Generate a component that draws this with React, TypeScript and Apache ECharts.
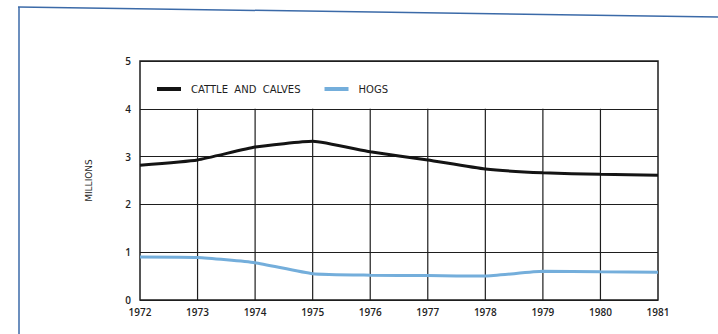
import React, { useEffect, useRef } from "react";
import * as echarts from "echarts";

const years = ["1972", "1973", "1974", "1975", "1976", "1977", "1978", "1979", "1980", "1981"];
const cattle = [2.82, 2.93, 3.2, 3.32, 3.1, 2.93, 2.74, 2.66, 2.63, 2.61];
const hogs = [0.9, 0.89, 0.78, 0.55, 0.52, 0.51, 0.5, 0.6, 0.59, 0.58];
const innerYears = years.slice(1, -1);
const seriesNames = ["CATTLE  AND  CALVES", "HOGS"];

export default function App() {
  const ref = useRef<HTMLDivElement>(null);
  useEffect(() => {
    if (!ref.current) return;
    const chart = echarts.init(ref.current, null, { renderer: "svg" });
    const ink = "#1e1e1e";
    chart.setOption({
      animation: false,
      backgroundColor: "#ffffff",
      textStyle: { fontFamily: "DejaVu Sans" },
      grid: {
        left: 140,
        right: 60,
        top: 61,
        bottom: 34,
        show: true,
        borderColor: ink,
        borderWidth: 1.5,
        backgroundColor: "transparent",
      },
      legend: {
        left: 152,
        top: 79,
        itemWidth: 24,
        itemHeight: 4,
        itemGap: 24,
        icon: "rect",
        data: seriesNames,
        textStyle: { fontSize: 10, color: ink, padding: [0, 0, 0, 5], fontFamily: "DejaVu Sans" },
      },
      xAxis: {
        type: "category",
        data: years,
        boundaryGap: false,
        axisLine: { show: false },
        axisTick: { show: false },
        splitLine: { show: false },
        axisLabel: { color: ink, fontSize: 10, fontWeight: 600, fontFamily: "Open Sans", margin: 7 },
      },
      yAxis: {
        type: "value",
        min: 0,
        max: 5,
        interval: 1,
        name: "MILLIONS",
        nameLocation: "middle",
        nameRotate: 90,
        nameGap: 47,
        nameTextStyle: { fontSize: 9, color: ink, fontFamily: "DejaVu Sans" },
        axisLine: { show: false },
        axisTick: { show: false },
        axisLabel: { color: ink, fontSize: 10, fontWeight: 600, fontFamily: "Open Sans", margin: 9 },
        splitLine: { show: true, lineStyle: { color: ink, width: 1.2 } },
      },
      graphic: [
        { type: "line", shape: { x1: 18, y1: 7, x2: 718, y2: 17 }, style: { stroke: "#3b6aa8", lineWidth: 1.5 } },
        { type: "line", shape: { x1: 19, y1: 7, x2: 19, y2: 334 }, style: { stroke: "#3b6aa8", lineWidth: 1.5 } },
      ],
      series: [
        {
          type: "custom",
          silent: true,
          data: innerYears.map((y) => [y, 4]),
          encode: { x: 0, y: 1 },
          renderItem: (params: any, api: any) => {
            const i = api.value(0);
            const p0 = api.coord([i, 0]);
            const p1 = api.coord([i, api.value(1)]);
            return {
              type: "line",
              shape: { x1: p0[0], y1: p0[1], x2: p1[0], y2: p1[1] },
              style: { stroke: ink, lineWidth: 1.2 },
            };
          },
          z: 1,
        },
        {
          name: seriesNames[0],
          type: "line",
          data: cattle,
          smooth: 0.15,
          showSymbol: false,
          lineStyle: { color: "#141414", width: 3 },
          itemStyle: { color: "#141414" },
          z: 3,
        },
        {
          name: seriesNames[1],
          type: "line",
          data: hogs,
          smooth: 0.15,
          showSymbol: false,
          lineStyle: { color: "#74aedb", width: 3 },
          itemStyle: { color: "#74aedb" },
          z: 3,
        },
      ],
    });
    return () => chart.dispose();
  }, []);
  return <div ref={ref} style={{ position: "fixed", left: 0, top: 0, width: 718, height: 334 }} />;
}
